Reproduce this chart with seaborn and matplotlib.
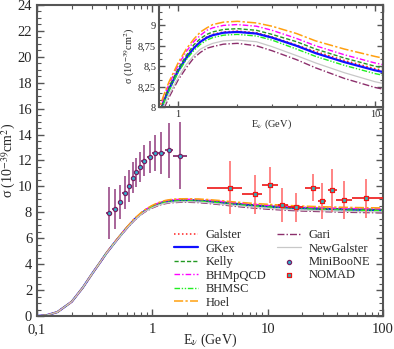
import numpy as np
import matplotlib
matplotlib.use("Agg")
import matplotlib.pyplot as plt
import seaborn as sns
from matplotlib.ticker import FuncFormatter, MultipleLocator, LogLocator, NullFormatter, FixedLocator, AutoMinorLocator

# neutrino energy grid (GeV) for the model curves
energy = [0.1, 0.12, 0.15, 0.2, 0.25, 0.3, 0.35, 0.4, 0.5, 0.6, 0.7, 0.8, 0.85, 0.9, 1.0, 1.1, 1.2,
          1.3, 1.4, 1.5, 1.7, 2, 2.5, 3, 4, 5, 7, 10, 15, 20, 30, 50, 70, 100]

# cross sections (1e-39 cm^2), one list per form-factor model
galster = [0, 0.05, 0.3, 1.1, 2.2, 3.25, 4.1, 4.85, 5.95, 6.81, 7.46, 7.91, 8.09, 8.23, 8.45, 8.61, 8.73,
           8.81, 8.86, 8.89, 8.92, 8.93, 8.91, 8.86, 8.76, 8.68, 8.57, 8.47, 8.38, 8.33, 8.28, 8.23, 8.21, 8.19]
gkex = [0, 0.05, 0.3, 1.1, 2.2, 3.25, 4.1, 4.85, 5.95, 6.8, 7.45, 7.9, 8.08, 8.22, 8.44, 8.6, 8.72,
        8.8, 8.85, 8.88, 8.91, 8.92, 8.9, 8.85, 8.75, 8.66, 8.55, 8.45, 8.36, 8.31, 8.26, 8.21, 8.19, 8.17]
kelly = [0, 0.05, 0.3, 1.1, 2.2, 3.25, 4.1, 4.85, 5.96, 6.82, 7.47, 7.92, 8.11, 8.25, 8.47, 8.63, 8.76,
         8.84, 8.89, 8.92, 8.95, 8.96, 8.94, 8.89, 8.8, 8.71, 8.6, 8.5, 8.41, 8.36, 8.31, 8.26, 8.24, 8.22]
bhmpqcd = [0, 0.05, 0.3, 1.1, 2.2, 3.25, 4.1, 4.86, 5.98, 6.84, 7.5, 7.95, 8.14, 8.28, 8.51, 8.68, 8.8,
           8.88, 8.94, 8.97, 9.0, 9.01, 8.99, 8.94, 8.84, 8.75, 8.64, 8.54, 8.45, 8.4, 8.35, 8.3, 8.28, 8.26]
bhmsc = [0, 0.05, 0.3, 1.1, 2.2, 3.25, 4.1, 4.85, 5.94, 6.79, 7.44, 7.88, 8.06, 8.2, 8.42, 8.58, 8.69,
         8.77, 8.82, 8.85, 8.88, 8.89, 8.87, 8.82, 8.71, 8.62, 8.51, 8.41, 8.32, 8.27, 8.22, 8.17, 8.15, 8.13]
hoel = [0, 0.05, 0.3, 1.1, 2.2, 3.25, 4.11, 4.87, 5.99, 6.85, 7.52, 7.98, 8.16, 8.31, 8.54, 8.71, 8.83,
        8.92, 8.97, 9.01, 9.04, 9.05, 9.03, 8.99, 8.9, 8.81, 8.71, 8.62, 8.53, 8.48, 8.43, 8.38, 8.36, 8.34]
gari = [0, 0.05, 0.3, 1.1, 2.2, 3.25, 4.09, 4.83, 5.91, 6.74, 7.38, 7.82, 7.99, 8.12, 8.33, 8.48, 8.6,
        8.67, 8.72, 8.74, 8.77, 8.78, 8.75, 8.69, 8.58, 8.48, 8.35, 8.24, 8.15, 8.1, 8.05, 8.0, 7.98, 7.96]
newgalster = [0, 0.05, 0.3, 1.1, 2.2, 3.25, 4.1, 4.84, 5.92, 6.76, 7.4, 7.84, 8.02, 8.15, 8.36, 8.52, 8.63,
              8.71, 8.75, 8.78, 8.81, 8.82, 8.8, 8.74, 8.63, 8.54, 8.42, 8.31, 8.22, 8.17, 8.12, 8.07, 8.05, 8.03]

# MiniBooNE data
mb_e = [0.425, 0.475, 0.525, 0.575, 0.625, 0.675, 0.725, 0.775, 0.85, 0.95, 1.05, 1.2, 1.4, 1.75]
mb_lo = [0.4, 0.45, 0.5, 0.55, 0.6, 0.65, 0.7, 0.75, 0.8, 0.9, 1.0, 1.1, 1.3, 1.5]
mb_hi = [0.45, 0.5, 0.55, 0.6, 0.65, 0.7, 0.75, 0.8, 0.9, 1.0, 1.1, 1.3, 1.5, 2.0]
mb_sig = [7.97, 8.26, 8.8, 9.52, 10.03, 10.67, 11.09, 11.52, 11.98, 12.27, 12.58, 12.58, 12.78, 12.37]
mb_err = [2.0, 1.53, 1.31, 1.26, 1.2, 1.2, 1.1, 1.16, 1.2, 1.25, 1.4, 1.6, 2.1, 2.6]

# NOMAD data
nd_e = [4.7, 7.7, 10.4, 13.4, 17.7, 24.7, 29.8, 35.9, 45.6, 71.6]
nd_lo = [3.0, 6.0, 9.0, 12.2, 14.9, 21.0, 27.4, 33.4, 38.8, 54.0]
nd_hi = [6.0, 9.0, 12.2, 14.9, 20.2, 28.2, 32.2, 39.6, 54.0, 100.0]
nd_sig = [9.9, 9.39, 10.1, 8.54, 8.39, 9.9, 8.87, 9.7, 8.95, 9.08]
nd_err = [2.05, 1.5, 1.4, 1.3, 1.1, 1.05, 1.38, 1.65, 1.5, 1.52]

models = [
    ("Galster", galster, "#ff2020", (0, (1, 1.6)), 1.1),
    ("GKex", gkex, "#1010ff", "-", 1.6),
    ("Kelly", kelly, "#229922", (0, (3, 1.5)), 1.0),
    ("BHMpQCD", bhmpqcd, "#ff00ff", (0, (4, 1.5, 1, 1.5)), 1.0),
    ("BHMSC", bhmsc, "#22ee22", (0, (4, 1.2, 1, 1.2, 1, 1.2)), 1.0),
    ("Hoel", hoel, "#ffa010", (0, (6, 1.5, 1.5, 1.5)), 1.1),
    ("Gari", gari, "#8c2f6c", (0, (5, 1.5, 1, 1.5)), 1.0),
    ("NewGalster", newgalster, "#c8c8c8", "-", 0.9),
]

sns.set_style("ticks")
plt.rcParams["font.family"] = ["Liberation Serif", "DejaVu Serif"]
plt.rcParams["mathtext.fontset"] = "stix"

fig = plt.figure(figsize=(3.94, 3.49), dpi=100)
ax = fig.add_axes([0.0939, 0.0946, 0.8782, 0.8911])
ins = fig.add_axes([0.4036, 0.6934, 0.5685, 0.2923])

comma = FuncFormatter(lambda v, p: ("%g" % v).replace(".", ","))

for name, vals, col, ls, lw in models:
    sns.lineplot(x=energy, y=vals, ax=ax, color=col, linestyle=ls, linewidth=lw, label=name)
    sns.lineplot(x=energy, y=vals, ax=ins, color=col, linestyle=ls, linewidth=lw, legend=False)

# data points with error bars
mb_xerr = [np.subtract(mb_e, mb_lo), np.subtract(mb_hi, mb_e)]
ax.errorbar(mb_e, mb_sig, yerr=mb_err, fmt="none", ecolor="#9a4a88", elinewidth=1.2, zorder=5)
ax.errorbar(mb_e, mb_sig, xerr=mb_xerr, fmt="none", ecolor="#7a1f62", elinewidth=1.2, zorder=5)
nd_xerr = [np.subtract(nd_e, nd_lo), np.subtract(nd_hi, nd_e)]
ax.errorbar(nd_e, nd_sig, yerr=nd_err, fmt="none", ecolor="#ff7070", elinewidth=1.2, zorder=5)
ax.errorbar(nd_e, nd_sig, xerr=nd_xerr, fmt="none", ecolor="#ee1515", elinewidth=1.2, zorder=5)
sns.scatterplot(x=mb_e, y=mb_sig, ax=ax, marker="o", s=9, color="#2fb3cf",
                edgecolor="#7a1f62", linewidth=0.9, zorder=6, label="MiniBooNE")
sns.scatterplot(x=nd_e, y=nd_sig, ax=ax, marker="s", s=9, color="#2fb3b8",
                edgecolor="#ee1515", linewidth=0.9, zorder=6, label="NOMAD")

ax.set_xscale("log")
ax.set_xlim(0.1, 100)
ax.set_ylim(0, 24)
ax.yaxis.set_major_locator(MultipleLocator(2))
ax.yaxis.set_minor_locator(MultipleLocator(0.5))
ax.xaxis.set_major_locator(FixedLocator([0.1, 1, 10, 100]))
ax.xaxis.set_minor_locator(LogLocator(base=10, subs=np.arange(2, 10)))
ax.xaxis.set_major_formatter(comma)
ax.xaxis.set_minor_formatter(NullFormatter())
ax.set_xlabel(r"E$_\nu$ (GeV)", fontsize=10)
ax.set_ylabel(r"σ (10$^{-39}$cm$^2$)", fontsize=10)
ax.xaxis.set_label_coords(0.5, -0.05)
ax.yaxis.set_label_coords(-0.055, 0.5)

ins.set_xscale("log")
ins.set_xlim(0.8, 11)
ins.set_ylim(8, 9.25)
ins.yaxis.set_major_locator(FixedLocator([8, 8.25, 8.5, 8.75, 9]))
ins.yaxis.set_minor_locator(AutoMinorLocator(3))
ins.yaxis.set_major_formatter(comma)
ins.xaxis.set_major_locator(FixedLocator([1, 10]))
ins.xaxis.set_minor_locator(LogLocator(base=10, subs=np.arange(2, 10)))
ins.xaxis.set_major_formatter(comma)
ins.xaxis.set_minor_formatter(NullFormatter())
ins.set_xlabel(r"E$_\nu$ (GeV)", fontsize=7.5, labelpad=-1)
ins.set_ylabel(r"σ (10$^{-39}$cm$^2$)", fontsize=7.5, labelpad=1)

for a, fs in [(ax, 10.5), (ins, 7.5)]:
    for sp in a.spines.values():
        sp.set_linewidth(1.5)
        sp.set_color("#555555")
    a.tick_params(which="both", direction="in", top=True, right=True, color="#555555", labelsize=fs)
    a.tick_params(which="major", length=5 if a is ax else 4, width=1)
    a.tick_params(which="minor", length=3 if a is ax else 2, width=0.8)
ins.tick_params(pad=2)
ax.tick_params(axis="x", pad=5)

# legend in two columns: 6 models, then 2 models + data
handles, labels = ax.get_legend_handles_labels()
lkw = dict(frameon=False, fontsize=9, handlelength=1.9, handletextpad=0.6,
           labelspacing=0.12, borderpad=0, borderaxespad=0, loc="upper left")
leg1 = ax.legend(handles[:6], labels[:6], bbox_to_anchor=(174 / 394, 1 - 229 / 349),
                 bbox_transform=fig.transFigure, **lkw)
ax.add_artist(leg1)
ax.legend(handles[6:], labels[6:], bbox_to_anchor=(277 / 394, 1 - 229 / 349),
          bbox_transform=fig.transFigure, **lkw)

fig.savefig("out.png", dpi=100)
